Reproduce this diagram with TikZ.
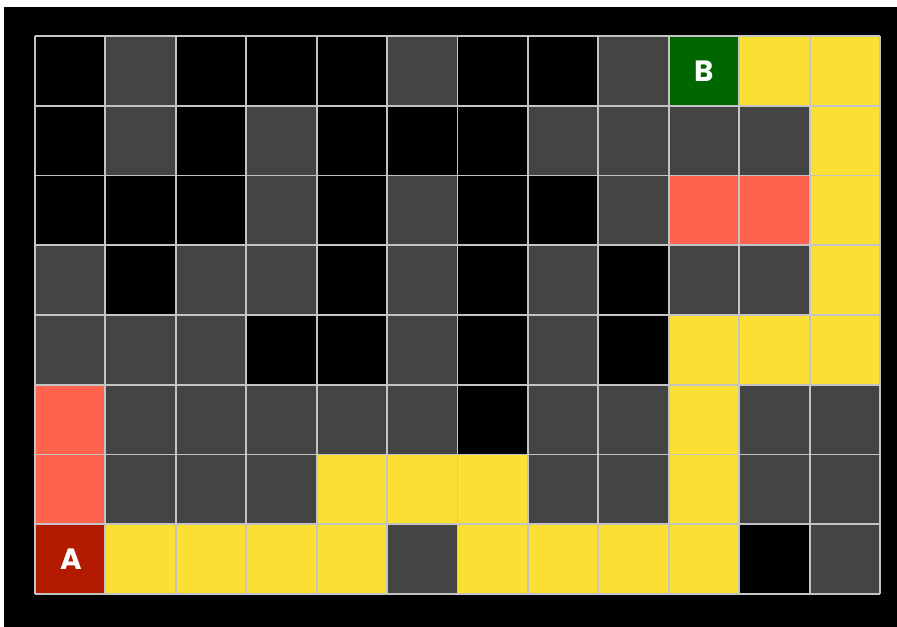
\documentclass[tikz,border=0pt]{standalone}
\usepackage{fontspec}
\setmainfont{Poppins}
\definecolor{cK}{HTML}{000000}
\definecolor{cG}{HTML}{444444}
\definecolor{cY}{HTML}{FBE033}
\definecolor{cR}{HTML}{FE634E}
\definecolor{cA}{HTML}{B31B00}
\definecolor{cB}{HTML}{006600}
\definecolor{gridline}{HTML}{C4C4C4}
\tikzset{
  gridstroke/.style={draw=gridline, line width=1.4pt},
  letter/.style={text=white, font=\bfseries\fontsize{22}{22}\selectfont, inner sep=0pt}
}
\begin{document}
\begin{tikzpicture}[x=0.75pt,y=-0.75pt]
\useasboundingbox (0,0) rectangle (897,627);
\fill[white] (0,0) rectangle (897,627);
\fill[black] (4,7) rectangle (897,627);
\def\cw{70.42}
\def\ch{69.75}
\foreach \row [count=\r from 0] in {
  {K,G,K,K,K,G,K,K,G,B,Y,Y},
  {K,G,K,G,K,K,K,G,G,G,G,Y},
  {K,K,K,G,K,G,K,K,G,R,R,Y},
  {G,K,G,G,K,G,K,G,K,G,G,Y},
  {G,G,G,K,K,G,K,G,K,Y,Y,Y},
  {R,G,G,G,G,G,K,G,G,Y,G,G},
  {R,G,G,G,Y,Y,Y,G,G,Y,G,G},
  {A,Y,Y,Y,Y,G,Y,Y,Y,Y,K,G}}{
  \foreach \c [count=\k from 0] in \row {
    \fill[c\c] ({35+\k*\cw},{36+\r*\ch}) rectangle ({35+(\k+1)*\cw},{36+(\r+1)*\ch});
  }
}
\foreach \k in {0,...,12} {
  \draw[gridstroke] ({35+\k*\cw},36) -- ({35+\k*\cw},{36+8*\ch});
}
\foreach \r in {0,...,8} {
  \draw[gridstroke] (35,{36+\r*\ch}) -- ({35+12*\cw},{36+\r*\ch});
}
\node[letter] (A) at ({35+0.52*\cw},{36+7.5*\ch}) {A};
\node[letter] (B) at ({35+9.5*\cw},{36+0.5*\ch}) {B};
\end{tikzpicture}
\end{document}
